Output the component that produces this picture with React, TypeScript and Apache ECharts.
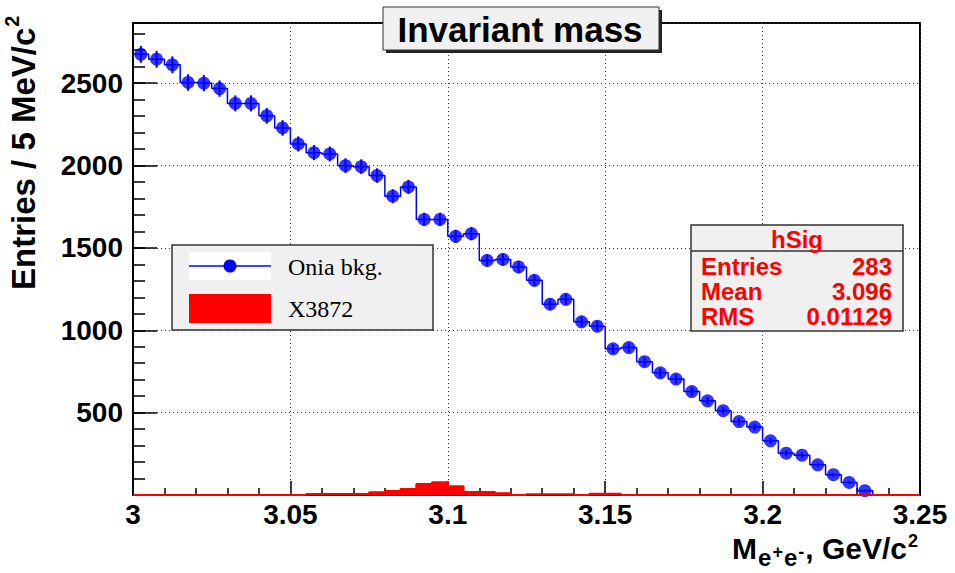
import React, { useEffect, useRef } from "react";
import * as echarts from "echarts";

// ---- data ----
const binStart = 3.0;
const binWidth = 0.005;
const oniaBkg = [
  2675, 2645, 2611, 2504, 2500, 2467, 2377, 2377, 2302, 2228,
  2131, 2078, 2070, 1999, 1993, 1939, 1814, 1870, 1673, 1673,
  1570, 1586, 1424, 1430, 1384, 1303, 1158, 1188, 1051, 1025,
  887, 895, 809, 742, 704, 628, 572, 512, 446, 412,
  329, 254, 242, 183, 123, 76, 26,
];
const x3872 = [
  0, 0, 0, 0, 0, 0, 0, 0, 0, 0,
  0, 6, 6, 6, 6, 16, 24, 37, 67, 77,
  53, 18, 18, 10, 0, 5, 5, 5, 0, 7,
  7, 0, 0, 0, 0, 0, 0, 0, 0, 0,
  0, 0, 0, 0, 0, 0, 0, 0, 0, 0,
];
const xTickLabels = [3, 3.05, 3.1, 3.15, 3.2, 3.25];
const yTickLabels = [500, 1000, 1500, 2000, 2500];
const xMin = 3.0;
const xMax = 3.25;
const yMax = 2865;
const titleText = "Invariant mass";
const legendNames = ["Onia bkg.", "X3872"];
const statsName = "hSig";
const statsRows = [
  ["Entries", "283"],
  ["Mean", "3.096"],
  ["RMS", "0.01129"],
];
const yTitleMain = "Entries / 5 MeV/c";
const yTitleSup = "2";
// x title pieces: text, font size, baseline shift (px, + = down) relative to main baseline
const xTitlePieces: [string, number, number][] = [
  ["M", 30, 0],
  ["e", 24, 7],
  ["+", 18, -1],
  ["e", 24, 7],
  ["-", 18, -1],
  [", GeV/c", 30, 0],
  ["2", 18, -12],
];

const SANS = "Liberation Sans";
const SERIF = "Liberation Serif";
const BLUE = "#0000ff";
const RED = "#ff0000";

function edge(i: number) {
  return +(binStart + i * binWidth).toFixed(4);
}
function center(i: number) {
  return +(binStart + (i + 0.5) * binWidth).toFixed(5);
}
function stepPoints(values: number[], dropEnd: boolean) {
  const pts: number[][] = [];
  values.forEach((v, i) => {
    pts.push([edge(i), v], [edge(i + 1), v]);
  });
  if (dropEnd) pts.push([edge(values.length), 0]);
  return pts;
}

let measureCtx: CanvasRenderingContext2D | null = null;
function measure(text: string, size: number) {
  if (!measureCtx) measureCtx = document.createElement("canvas").getContext("2d");
  measureCtx!.font = `bold ${size}px "${SANS}"`;
  return measureCtx!.measureText(text).width;
}

// middle of em box relative to the alphabetic baseline
const MID = 0.39;

function textEl(text: string, x: number, y: number, size: number, opts: any = {}) {
  const align = opts.align || "left";
  return {
    type: "text",
    z: opts.z ?? 102,
    x,
    y,
    style: {
      text,
      fontFamily: opts.family || SANS,
      fontWeight: opts.weight || "bold",
      fontSize: size,
      lineHeight: opts.lineHeight || size,
      fill: opts.fill || "#000",
      align,
      verticalAlign: "middle",
      textAlign: align,
      textVerticalAlign: "middle",
    },
  };
}

export default function App() {
  const ref = useRef<HTMLDivElement>(null);
  useEffect(() => {
    document.body.style.margin = "0";
    const chart = echarts.init(ref.current!, null, { renderer: "svg" });

    const points = oniaBkg.map((v, i) => [center(i), v]);

    // x axis title layout (right aligned)
    const xBase = 560;
    const xRight = 918;
    const gap = 1;
    const widths = xTitlePieces.map(([t, s]) => measure(t, s));
    const total = widths.reduce((a, b) => a + b, 0) + gap * (xTitlePieces.length - 1);
    let cx = xRight - total;
    const xTitleEls = xTitlePieces.map(([t, s, dy], i) => {
      const el = textEl(t, cx, xBase + dy - MID * s, s, { z: 100 });
      cx += widths[i] + gap;
      return el;
    });

    // y axis title (rotated group)
    const yMainSize = 33;
    const ySupSize = 20;
    const yMainW = measure(yTitleMain, yMainSize);
    const yTitleGroup = {
      type: "group",
      x: 36 - MID * yMainSize,
      y: 290,
      rotation: Math.PI / 2,
      z: 100,
      children: [
        textEl(yTitleMain, 0, 0, yMainSize, { z: 100 }),
        textEl(yTitleSup, yMainW + 1, MID * yMainSize - 16 - MID * ySupSize, ySupSize, { z: 100 }),
      ],
    };

    const option: any = {
      animation: false,
      backgroundColor: "#ffffff",
      grid: {
        left: 133,
        right: 35,
        top: 23,
        bottom: 78,
        show: true,
        borderColor: "#000",
        borderWidth: 2,
        backgroundColor: "transparent",
      },
      xAxis: {
        type: "value",
        min: xMin,
        max: xMax,
        interval: 0.05,
        axisLine: { show: true, onZero: false, lineStyle: { color: "#000", width: 2 } },
        axisTick: { show: true, inside: true, length: 14, lineStyle: { color: "#000", width: 1.5 } },
        minorTick: { show: true, splitNumber: 5, length: 7, lineStyle: { color: "#000", width: 1.5 } },
        axisLabel: {
          color: "#000",
          fontFamily: SANS,
          fontWeight: "bold",
          fontSize: 28,
          lineHeight: 24,
          margin: 7,
          formatter: (v: number) => {
            const r = +v.toFixed(2);
            return xTickLabels.includes(r) ? String(r) : "";
          },
        },
        splitLine: { show: true, lineStyle: { color: "#333", type: [1, 3], width: 1 } },
      },
      yAxis: [
        {
          type: "value",
          min: 0,
          max: yMax,
          interval: 500,
          axisLine: { show: true, onZero: false, lineStyle: { color: "#000", width: 2 } },
          axisTick: { show: true, inside: true, length: 24, lineStyle: { color: "#000", width: 1.5 } },
          axisLabel: {
            color: "#000",
            fontFamily: SANS,
            fontWeight: "bold",
            fontSize: 28,
            margin: 10,
            formatter: (v: number) => (yTickLabels.includes(v) ? String(v) : ""),
          },
          splitLine: { show: true, lineStyle: { color: "#333", type: [1, 3], width: 1 } },
        },
        {
          type: "value",
          min: 0,
          max: yMax,
          interval: 100,
          position: "left",
          axisLine: { show: false },
          axisTick: { show: true, inside: true, length: 12, lineStyle: { color: "#000", width: 1.5 } },
          axisLabel: { show: false },
          splitLine: { show: false },
        },
      ],
      series: [
        {
          name: legendNames[0],
          type: "line",
          data: stepPoints(oniaBkg, true),
          showSymbol: false,
          symbol: "none",
          lineStyle: { color: BLUE, width: 1.5 },
          z: 2,
        },
        {
          name: legendNames[0] + " errors",
          type: "custom",
          data: points,
          renderItem: (_p: any, api: any) => {
            const x = api.value(0);
            const v = api.value(1);
            const e = Math.sqrt(v);
            const a = api.coord([x, v - e]);
            const b = api.coord([x, v + e]);
            return {
              type: "line",
              shape: { x1: a[0], y1: a[1], x2: b[0], y2: b[1] },
              style: { stroke: BLUE, lineWidth: 2 },
            };
          },
          z: 3,
        },
        {
          name: legendNames[0] + " points",
          type: "scatter",
          data: points,
          symbol: "circle",
          symbolSize: 13,
          itemStyle: { color: BLUE },
          z: 4,
        },
        {
          name: legendNames[1],
          type: "line",
          data: stepPoints(x3872, false),
          showSymbol: false,
          symbol: "none",
          lineStyle: { color: RED, width: 2 },
          areaStyle: { color: RED, opacity: 1 },
          z: 5,
        },
      ],
      graphic: [
        // title box
        { type: "rect", z: 100, shape: { x: 386, y: 10, width: 276, height: 43 }, style: { fill: "#222" } },
        {
          type: "rect",
          z: 101,
          shape: { x: 383, y: 7, width: 276, height: 43 },
          style: { fill: "#f0f0f0", stroke: "#333", lineWidth: 1 },
        },
        textEl(titleText, 520, 29, 35, { align: "center" }),
        // legend
        {
          type: "rect",
          z: 100,
          shape: { x: 172, y: 245, width: 261, height: 85 },
          style: { fill: "#f0f0f0", stroke: "#333", lineWidth: 1.5 },
        },
        { type: "rect", z: 101, shape: { x: 189, y: 252, width: 82, height: 28 }, style: { fill: "#ffffff" } },
        {
          type: "line",
          z: 102,
          shape: { x1: 189, y1: 266, x2: 271, y2: 266 },
          style: { stroke: BLUE, lineWidth: 1.5 },
        },
        { type: "circle", z: 103, shape: { cx: 230, cy: 266, r: 6.5 }, style: { fill: BLUE } },
        { type: "rect", z: 101, shape: { x: 189, y: 294, width: 82, height: 29 }, style: { fill: RED } },
        textEl(legendNames[0], 288, 267, 24, { family: SERIF, weight: "normal" }),
        textEl(legendNames[1], 288, 309, 24, { family: SERIF, weight: "normal" }),
        // stats box
        {
          type: "rect",
          z: 100,
          shape: { x: 691, y: 225, width: 212, height: 106 },
          style: { fill: "#f0f0f0", stroke: "#333", lineWidth: 1.5 },
        },
        {
          type: "line",
          z: 101,
          shape: { x1: 691, y1: 251, x2: 903, y2: 251 },
          style: { stroke: "#333", lineWidth: 1.5 },
        },
        textEl(statsName, 797, 239, 24, { align: "center", fill: RED, lineHeight: 22 }),
        ...statsRows.flatMap((row, i) => [
          textEl(row[0], 701, 266 + i * 25, 24, { fill: RED, lineHeight: 22 }),
          textEl(row[1], 892, 266 + i * 25, 24, { fill: RED, lineHeight: 22, align: "right" }),
        ]),
        yTitleGroup,
        ...xTitleEls,
      ],
    };

    chart.setOption(option);
    return () => chart.dispose();
  }, []);
  return <div ref={ref} style={{ width: 955, height: 573, background: "#fff" }} />;
}
